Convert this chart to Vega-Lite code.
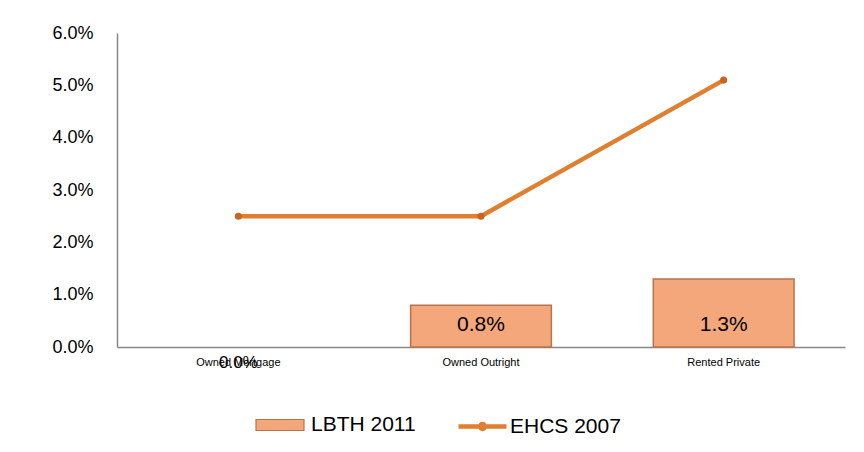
{
  "$schema": "https://vega.github.io/schema/vega-lite/v6.json",
  "width": 728,
  "height": 314,
  "autosize": "none",
  "padding": {"left": 117, "top": 33, "right": 19, "bottom": 105},
  "background": "white",
  "config": {"view": {"stroke": null}, "font": "Liberation Sans"},
  "data": {
    "values": [
      {"category": "Owned Mortgage", "LBTH": 0.0, "EHCS": 0.025},
      {"category": "Owned Outright", "LBTH": 0.008, "EHCS": 0.025},
      {"category": "Rented Private", "LBTH": 0.013, "EHCS": 0.051}
    ]
  },
  "encoding": {
    "x": {
      "field": "category",
      "type": "nominal",
      "sort": null,
      "scale": {"domain": ["Owned Mortgage", "Owned Outright", "Rented Private"], "paddingInner": 0.42, "paddingOuter": 0.21},
      "axis": {
        "title": null,
        "labelAngle": 0,
        "labelFontSize": 11,
        "labelColor": "#000000",
        "labelPadding": 9,
        "ticks": false,
        "domainColor": "#888888",
        "domainWidth": 1.5
      }
    }
  },
  "layer": [
    {
      "transform": [{"filter": "datum.LBTH > 0"}],
      "mark": {"type": "bar", "stroke": "#B8744E", "strokeWidth": 1.5},
      "encoding": {
        "y": {
          "field": "LBTH",
          "type": "quantitative",
          "scale": {"domain": [0, 0.06]},
          "axis": {
            "title": null,
            "format": ".1%",
            "values": [0, 0.01, 0.02, 0.03, 0.04, 0.05, 0.06],
            "grid": false,
            "ticks": false,
            "labelFontSize": 18,
            "labelColor": "#000000",
            "labelPadding": 24,
            "domainColor": "#888888",
            "domainWidth": 1.5
          }
        },
        "fill": {
          "datum": "LBTH 2011",
          "scale": {"domain": ["LBTH 2011"], "range": ["#F3A77B"]},
          "legend": {
            "title": null,
            "orient": "none",
            "legendX": 138,
            "legendY": 367,
            "padding": 0,
            "labelFontSize": 21,
            "labelColor": "#000000",
            "labelOffset": 6,
            "symbolType": "M-1,-0.23H1V0.23H-1Z",
            "symbolSize": 2304,
            "symbolStrokeColor": "#B8744E",
            "symbolStrokeWidth": 1.2,
            "symbolOpacity": 1
          }
        }
      }
    },
    {
      "transform": [{"filter": "datum.LBTH > 0"}],
      "mark": {"type": "text", "fontSize": 21, "color": "#000000", "dy": -22},
      "encoding": {
        "y": {"datum": 0, "type": "quantitative"},
        "text": {"field": "LBTH", "type": "quantitative", "format": ".1%"}
      }
    },
    {
      "transform": [{"filter": "datum.LBTH == 0"}],
      "mark": {"type": "text", "fontSize": 17, "color": "#000000", "dy": 16},
      "encoding": {
        "y": {"datum": 0, "type": "quantitative"},
        "text": {"field": "LBTH", "type": "quantitative", "format": ".1%"}
      }
    },
    {
      "mark": {"type": "line", "strokeWidth": 4.5},
      "encoding": {
        "y": {"field": "EHCS", "type": "quantitative"},
        "stroke": {
          "datum": "EHCS 2007",
          "scale": {"domain": ["EHCS 2007"], "range": ["#E07F2F"]},
          "legend": {
            "title": null,
            "orient": "none",
            "legendX": 339,
            "legendY": 367,
            "padding": 0,
            "labelFontSize": 21,
            "labelColor": "#000000",
            "labelOffset": 1,
            "symbolType": "M-1,0H1 M-0.1,0A0.1,0.1 0 1,0 0.1,0A0.1,0.1 0 1,0 -0.1,0Z",
            "symbolSize": 2304,
            "symbolStrokeWidth": 4.5,
            "symbolFillColor": "#C8651F",
            "symbolOpacity": 1
          }
        }
      }
    },
    {
      "mark": {"type": "point", "filled": true, "size": 50, "color": "#C8651F", "opacity": 1},
      "encoding": {
        "y": {"field": "EHCS", "type": "quantitative"}
      }
    }
  ]
}
